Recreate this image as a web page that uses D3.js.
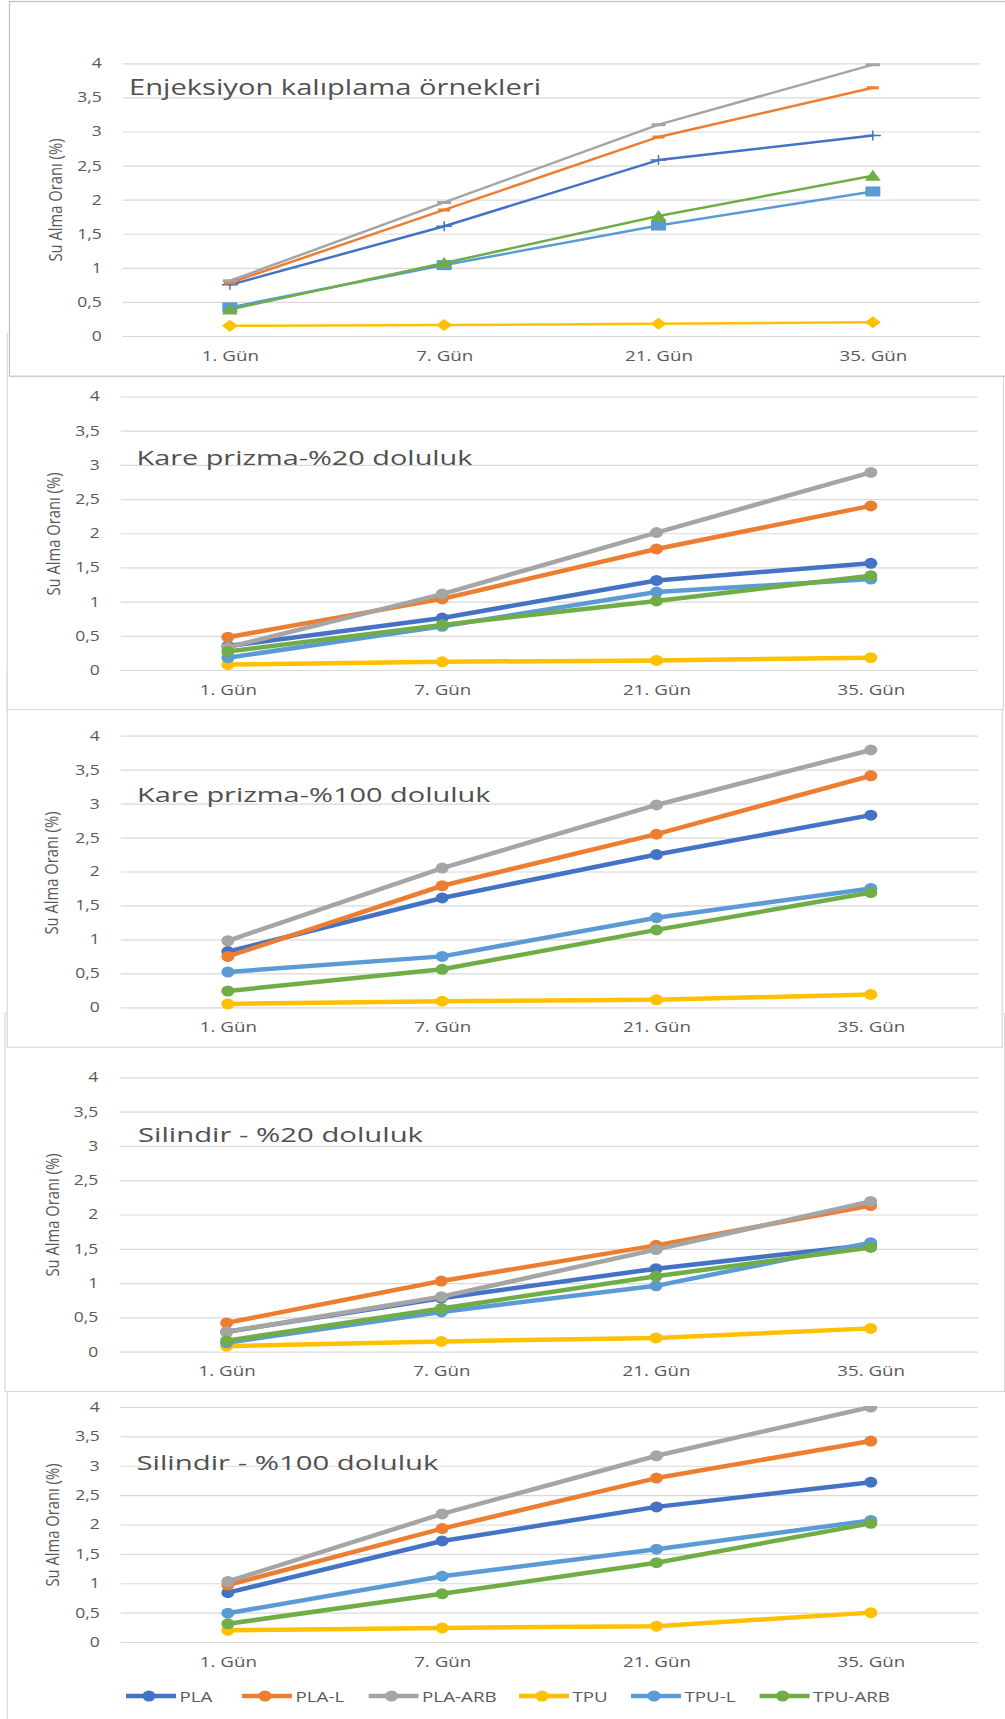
<!DOCTYPE html>
<html><head><meta charset="utf-8">
<script src="https://cdn.jsdelivr.net/npm/d3@7"></script>
<style>body{margin:0;background:#fff}svg{display:block}</style>
</head><body><svg id="c" width="1005" height="1719"></svg>
<script>
// ---------------- DATA ----------------
const categories = ["1. Gün", "7. Gün", "21. Gün", "35. Gün"];
const seriesNames = ["PLA", "PLA-L", "PLA-ARB", "TPU", "TPU-L", "TPU-ARB"];
const seriesColors = ["#4472C4", "#ED7D31", "#A5A5A5", "#FFC000", "#5B9BD5", "#70AD47"];
const yTickValues = [0, 0.5, 1, 1.5, 2, 2.5, 3, 3.5, 4];
const yTickLabels = ["0", "0,5", "1", "1,5", "2", "2,5", "3", "3,5", "4"];
const yAxisTitle = "Su Alma Oranı (%)";
const panelTitles = ["Enjeksiyon kalıplama örnekleri", "Kare prizma-%20 doluluk", "Kare prizma-%100 doluluk", "Silindir - %20 doluluk", "Silindir - %100 doluluk"];

// rows follow seriesNames, columns follow categories
const injectionValues = [
  [0.75, 1.61, 2.58, 2.94],
  [0.78, 1.85, 2.92, 3.64],
  [0.81, 1.96, 3.10, 3.98],
  [0.15, 0.16, 0.18, 0.20],
  [0.42, 1.04, 1.62, 2.12],
  [0.39, 1.07, 1.76, 2.35]
];
const prism20Values = [
  [0.35, 0.76, 1.31, 1.56],
  [0.48, 1.04, 1.77, 2.40],
  [0.33, 1.11, 2.01, 2.89],
  [0.08, 0.12, 0.14, 0.18],
  [0.18, 0.64, 1.14, 1.33],
  [0.27, 0.66, 1.01, 1.38]
];
const prism100Values = [
  [0.82, 1.61, 2.25, 2.83],
  [0.75, 1.79, 2.55, 3.41],
  [0.98, 2.05, 2.98, 3.79],
  [0.05, 0.09, 0.11, 0.19],
  [0.52, 0.75, 1.32, 1.75],
  [0.24, 0.56, 1.14, 1.69]
];
const cyl20Values = [
  [0.29, 0.78, 1.21, 1.56],
  [0.42, 1.03, 1.55, 2.13],
  [0.29, 0.80, 1.49, 2.19],
  [0.08, 0.15, 0.20, 0.34],
  [0.13, 0.58, 0.96, 1.59],
  [0.16, 0.63, 1.10, 1.52]
];
const cyl100Values = [
  [0.84, 1.72, 2.30, 2.72],
  [0.97, 1.93, 2.79, 3.42],
  [1.03, 2.18, 3.17, 4.00],
  [0.20, 0.24, 0.27, 0.50],
  [0.49, 1.12, 1.58, 2.07],
  [0.31, 0.82, 1.35, 2.02]
];
const panelValues = [injectionValues, prism20Values, prism100Values, cyl20Values, cyl100Values];

// ---------------- LAYOUT ----------------
const FONT = "'Open Sans', 'DejaVu Sans', sans-serif";
const K = 1.25; // horizontal stretch of the original picture
const layout = [
  {box: [9, 1, 1012, 375.7], stroke: "#bfbfbf", x: [122.7, 980], y: [336, 63.3], tx: 129, ty: 95, ts: 21, tl: 412, ax: 55, ay: 200, style: "excel"},
  {box: [6.7, 333, 1003, 709], x: [120.7, 978], y: [670, 396.5], tx: 136.5, ty: 465, ts: 20, tl: 336, ax: 53, ay: 534},
  {box: [6.7, 670, 1001.7, 1046.7], x: [120.7, 978], y: [1007.3, 735.7], tx: 137, ty: 802, ts: 20, tl: 353.5, ax: 51, ay: 873},
  {box: [4.5, 1013, 1004, 1391], x: [119.3, 978], y: [1351.7, 1077.3], tx: 138, ty: 1141.7, ts: 20, tl: 285, ax: 52, ay: 1215},
  {box: [6.7, 1388, 1012, 1725], x: [120.7, 978], y: [1642, 1407], tx: 136.5, ty: 1470, ts: 20, tl: 302, ax: 52, ay: 1525, legendY: 1696}
];
const legendX = [126, 242, 368.6, 519, 631, 759.6];

const svg = d3.select("#c");
svg.append("rect").attr("width", 1005).attr("height", 1719).attr("fill", "#fff");
const defs = svg.append("defs");

function stretch(sel, k) {
  sel.each(function () {
    const L = this.getComputedTextLength();
    if (L > 0) d3.select(this).attr("textLength", L * k).attr("lengthAdjust", "spacingAndGlyphs");
  });
}

function excelMarker(g, s, color) {
  if (s === 0) {
    g.append("path").attr("d", "M-8,0H8M0,-5V5").attr("stroke", color).attr("stroke-width", 1.5).attr("fill", "none");
  } else if (s === 1) {
    g.append("path").attr("d", "M-6,0H6").attr("stroke", color).attr("stroke-width", 3);
  } else if (s === 2) {
    g.append("path").attr("d", "M-7,0H7").attr("stroke", color).attr("stroke-width", 3);
  } else if (s === 3) {
    g.append("path").attr("d", "M0,-6L8,0L0,6L-8,0Z").attr("fill", color);
  } else if (s === 4) {
    g.append("rect").attr("x", -7.5).attr("y", -5).attr("width", 15).attr("height", 10).attr("fill", color);
  } else {
    g.append("path").attr("d", "M0,-6L8,5L-8,5Z").attr("fill", color);
  }
}

function drawPanel(i) {
  const L = layout[i], vals = panelValues[i];
  const g = svg.append("g");
  g.append("rect")
    .attr("x", L.box[0] + 0.5).attr("y", L.box[1] + 0.5)
    .attr("width", L.box[2] - L.box[0]).attr("height", L.box[3] - L.box[1])
    .attr("fill", "#fff").attr("stroke", L.stroke || "#d9d9d9").attr("stroke-width", 1.2);

  const x = d3.scalePoint().domain(categories).range(L.x).padding(0.5);
  const y = d3.scaleLinear().domain([0, 4]).range(L.y);
  const W = L.x[1] - L.x[0];

  // gridlines
  const grid = g.append("g").attr("transform", `translate(${L.x[0]},0)`)
    .call(d3.axisLeft(y).tickValues(yTickValues).tickSize(-W).tickFormat(""));
  grid.select(".domain").remove();
  grid.selectAll("line").attr("stroke", "#d9d9d9").attr("stroke-width", 1.2);

  // y tick labels
  const ya = g.append("g").attr("transform", `translate(${L.x[0]},0)`)
    .call(d3.axisLeft(y).tickValues(yTickValues).tickSize(0).tickPadding(21)
      .tickFormat((d, j) => yTickLabels[j]));
  ya.select(".domain").remove();
  ya.attr("font-family", FONT).attr("font-size", 14);
  ya.selectAll("text").attr("fill", "#595959");
  stretch(ya.selectAll("text"), K);

  // x tick labels
  const xa = g.append("g").attr("transform", `translate(0,${L.y[0]})`)
    .call(d3.axisBottom(x).tickSize(0).tickPadding(14));
  xa.select(".domain").remove();
  xa.attr("font-family", FONT).attr("font-size", 15);
  xa.selectAll("text").attr("fill", "#595959");
  stretch(xa.selectAll("text"), K);

  // axis title
  g.append("text")
    .attr("transform", `translate(${L.ax},${L.ay}) scale(${K},1) rotate(-90)`)
    .attr("text-anchor", "middle").attr("dy", "0.35em")
    .attr("font-family", FONT).attr("font-size", 15).attr("fill", "#595959")
    .attr("textLength", 123).attr("lengthAdjust", "spacingAndGlyphs")
    .text(yAxisTitle);

  // chart title
  g.append("text")
    .attr("x", L.tx).attr("y", L.ty)
    .attr("font-family", FONT).attr("font-size", L.ts).attr("fill", "#505050")
    .attr("textLength", L.tl).attr("lengthAdjust", "spacingAndGlyphs")
    .text(panelTitles[i]);

  // clip
  const cid = "clip" + i;
  defs.append("clipPath").attr("id", cid).append("rect")
    .attr("x", 0).attr("y", y(4) - 1).attr("width", 1005).attr("height", 1719);

  const plot = g.append("g").attr("clip-path", `url(#${cid})`);
  const line = d3.line().x((d, j) => x(categories[j])).y(d => y(d));
  const excel = L.style === "excel";
  seriesNames.forEach((name, s) => {
    plot.append("path").datum(vals[s]).attr("d", line)
      .attr("fill", "none").attr("stroke", seriesColors[s])
      .attr("stroke-width", excel ? 2.5 : 4.5).attr("stroke-linejoin", "round").attr("stroke-linecap", "round");
    vals[s].forEach((v, j) => {
      const mg = plot.append("g").attr("transform", `translate(${x(categories[j])},${y(v)})`);
      if (excel) excelMarker(mg, s, seriesColors[s]);
      else mg.append("ellipse").attr("rx", 6.5).attr("ry", 5.5).attr("fill", seriesColors[s]);
    });
  });

  // legend
  if (L.legendY) {
    const lg = g.append("g");
    seriesNames.forEach((name, s) => {
      const lx = legendX[s];
      lg.append("line").attr("x1", lx).attr("x2", lx + 50).attr("y1", L.legendY).attr("y2", L.legendY)
        .attr("stroke", seriesColors[s]).attr("stroke-width", 4.5);
      lg.append("ellipse").attr("cx", lx + 23).attr("cy", L.legendY).attr("rx", 6.5).attr("ry", 5.5).attr("fill", seriesColors[s]);
      lg.append("text").attr("x", lx + 53.5).attr("y", L.legendY + 5.5)
        .attr("font-family", FONT).attr("font-size", 15).attr("fill", "#595959").text(name);
    });
    stretch(lg.selectAll("text"), K);
  }
}

for (let i = layout.length - 1; i >= 0; i--) drawPanel(i);
</script>
</body></html>
